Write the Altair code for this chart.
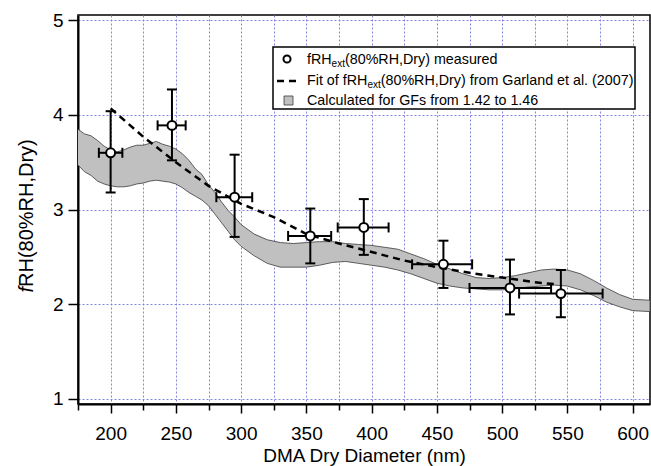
import altair as alt
import pandas as pd

# ---------------- data ----------------
band_x = [175, 180, 185, 190, 195, 200, 205, 210, 215, 220, 225, 230, 235, 240, 245,
          250, 255, 260, 265, 270, 275, 280, 285, 290, 295, 300, 310, 320, 330, 340,
          350, 360, 370, 380, 390, 400, 410, 420, 430, 440, 450, 460, 470, 480, 490,
          500, 510, 520, 530, 540, 550, 560, 570, 580, 590, 600, 613]
band_upper = [3.85, 3.80, 3.78, 3.73, 3.67, 3.63, 3.61, 3.63, 3.66, 3.68, 3.68, 3.70, 3.72, 3.69, 3.67,
              3.64, 3.59, 3.52, 3.43, 3.37, 3.26, 3.18, 3.08, 2.99, 2.92, 2.84, 2.74, 2.68, 2.65, 2.64,
              2.65, 2.66, 2.66, 2.64, 2.63, 2.62, 2.60, 2.58, 2.53, 2.48, 2.42, 2.37, 2.32, 2.28, 2.27,
              2.28, 2.30, 2.33, 2.36, 2.37, 2.36, 2.32, 2.25, 2.17, 2.10, 2.05, 2.04]
band_lower = [3.47, 3.40, 3.36, 3.30, 3.27, 3.25, 3.24, 3.24, 3.25, 3.27, 3.28, 3.30, 3.31, 3.30, 3.29,
              3.27, 3.23, 3.18, 3.14, 3.10, 3.04, 2.95, 2.86, 2.77, 2.68, 2.61, 2.51, 2.43, 2.39, 2.39,
              2.39, 2.41, 2.44, 2.45, 2.43, 2.41, 2.39, 2.36, 2.32, 2.27, 2.22, 2.19, 2.17, 2.16, 2.15,
              2.15, 2.16, 2.18, 2.19, 2.20, 2.19, 2.15, 2.09, 2.02, 1.97, 1.93, 1.92]

fit_x = [200, 225, 250, 275, 300, 325, 350, 375, 400, 425, 450, 475, 500, 525, 540]
fit_y = [4.07, 3.77, 3.50, 3.25, 3.06, 2.92, 2.74, 2.64, 2.55, 2.46, 2.39, 2.33, 2.28, 2.23, 2.21]

meas_x = [200, 247, 295, 353, 394, 455, 506, 545]
meas_y = [3.60, 3.89, 3.13, 2.72, 2.81, 2.42, 2.17, 2.11]
meas_ylo = [3.18, 3.52, 2.71, 2.43, 2.52, 2.17, 1.89, 1.86]
meas_yhi = [4.04, 4.27, 3.58, 3.01, 3.11, 2.67, 2.47, 2.36]
meas_xlo = [191, 236, 281, 336, 374, 431, 475, 513]
meas_xhi = [209, 257.5, 308.5, 369, 413, 477, 537.5, 577]

x_ticks = list(range(175, 601, 25))
y_ticks = [1, 2, 3, 4, 5]

# ---------------- styling ----------------
FONT = "Liberation Sans"
GRID = "#8585e0"
W, H = 572, 389

band_df = pd.DataFrame({"x": band_x, "upper": band_upper, "lower": band_lower})
fit_df = pd.DataFrame({"x": fit_x, "y": fit_y})
meas_df = pd.DataFrame({"x": meas_x, "y": meas_y, "ylo": meas_ylo, "yhi": meas_yhi,
                        "xlo": meas_xlo, "xhi": meas_xhi})

xs = alt.Scale(domain=[175, 613.3], nice=False, zero=False)
ys = alt.Scale(domain=[0.942, 5.058], nice=False, zero=False)

x_axis = alt.Axis(
    values=x_ticks,
    labelExpr="datum.value % 50 === 0 ? datum.label : ''",
    tickSize={"condition": {"test": "datum.value % 50 === 0", "value": 9}, "value": 6},
    title="DMA Dry Diameter (nm)",
    grid=True, gridColor=GRID, gridDash=[2, 2], gridWidth=1,
    domainColor="black", domainWidth=2, tickColor="black", tickWidth=1.5,
    labelFontSize=19, labelColor="black", labelPadding=11, labelFlush=False,
    labelOverlap=False, titleFontSize=19, titleFontWeight="normal",
    titleColor="black", titlePadding=3, labelFont=FONT, titleFont=FONT,
)
y_axis = alt.Axis(
    values=y_ticks, title=None, format="d",
    grid=True, gridColor=GRID, gridDash=[2, 2], gridWidth=1,
    domainColor="black", domainWidth=2, tickColor="black", tickWidth=1.5,
    tickSize=10, labelFontSize=19, labelColor="black", labelPadding=5,
    labelFont=FONT,
)


def X(f):
    return alt.X(f, scale=xs, axis=x_axis, title="DMA Dry Diameter (nm)")


def Y(f):
    return alt.Y(f, scale=ys, axis=y_axis, title=None)


area = alt.Chart(band_df).mark_area(color="#c0c0c0", opacity=1).encode(
    x=X("x:Q"), y=Y("upper:Q"), y2="lower:Q")
up_line = alt.Chart(band_df).mark_line(color="#3a3a3a", strokeWidth=0.8).encode(
    x=X("x:Q"), y=Y("upper:Q"))
lo_line = alt.Chart(band_df).mark_line(color="#3a3a3a", strokeWidth=0.8).encode(
    x=X("x:Q"), y=Y("lower:Q"))

fit = alt.Chart(fit_df).mark_line(color="black", strokeWidth=2.5, strokeDash=[7, 5]).encode(
    x=X("x:Q"), y=Y("y:Q"))

meas = alt.Chart(meas_df)
vbar = meas.mark_rule(color="black", strokeWidth=2, opacity=1).encode(
    x=X("x:Q"), y=Y("ylo:Q"), y2="yhi:Q")
hbar = meas.mark_rule(color="black", strokeWidth=2, opacity=1).encode(
    x=X("xlo:Q"), x2="xhi:Q", y=Y("y:Q"))
cap_top = meas.mark_tick(color="black", orient="horizontal", size=10, thickness=2, opacity=1).encode(
    x=X("x:Q"), y=Y("yhi:Q"))
cap_bot = meas.mark_tick(color="black", orient="horizontal", size=10, thickness=2, opacity=1).encode(
    x=X("x:Q"), y=Y("ylo:Q"))
cap_l = meas.mark_tick(color="black", orient="vertical", size=10, thickness=2, opacity=1).encode(
    x=X("xlo:Q"), y=Y("y:Q"))
cap_r = meas.mark_tick(color="black", orient="vertical", size=10, thickness=2, opacity=1).encode(
    x=X("xhi:Q"), y=Y("y:Q"))
pts = meas.mark_point(shape="circle", filled=True, fill="white", stroke="black",
                      strokeWidth=2, size=80, opacity=1).encode(
    x=X("x:Q"), y=Y("y:Q"))

# ---------------- y title with italic f ----------------
one = alt.Data(values=[{"a": 1}])
yt_f = alt.Chart(one).mark_text(angle=270, align="right", baseline="middle", font=FONT,
                                fontSize=20, fontStyle="italic", color="black").encode(
    x=alt.value(-51), y=alt.value(272), text=alt.value("f"))
yt_rest = alt.Chart(one).mark_text(angle=270, align="left", baseline="middle", font=FONT,
                                   fontSize=20, color="black").encode(
    x=alt.value(-51), y=alt.value(272), text=alt.value("RH(80%RH,Dry)"))

# ---------------- legend (manual, for subscripts) ----------------
CW = {' ': .278, '(': .333, ')': .333, '%': .889, ',': .278, '.': .278,
      'A': .667, 'C': .722, 'D': .722, 'F': .611, 'G': .778, 'H': .722, 'M': .833,
      'R': .722, 'S': .667, 'a': .556, 'c': .5, 'd': .556, 'e': .556, 'f': .278,
      'i': .222, 'l': .222, 'm': .833, 'n': .556, 'o': .556, 'r': .333, 's': .5,
      't': .278, 'u': .556, 'x': .5, 'y': .5}


def tw(s, size):
    return sum(CW.get(c, .556) for c in s) * size


FS, SS = 14.3, 10
TX = 229
rows = [
    (45, ["fRH", "ext", "(80%RH,Dry) measured"]),
    (66, ["Fit of fRH", "ext", "(80%RH,Dry) from Garland et al. (2007)"]),
    (86, ["Calculated for GFs from 1.42 to 1.46"]),
]

leg_layers = []
leg_layers.append(alt.Chart(one).mark_rect(fill="white", stroke="black", strokeWidth=1.5).encode(
    x=alt.value(195), x2=alt.value(557), y=alt.value(32), y2=alt.value(94)))
for ry, parts in rows:
    cx = TX
    for i, p in enumerate(parts):
        sub = (i == 1)
        size = SS if sub else FS
        leg_layers.append(alt.Chart(one).mark_text(
            align="left", baseline="middle", font=FONT, fontSize=size, color="black").encode(
            x=alt.value(cx), y=alt.value(ry + (4 if sub else 0)), text=alt.value(p)))
        cx += tw(p, size)

leg_layers.append(alt.Chart(one).mark_point(shape="circle", filled=True, fill="white",
                                            stroke="black", strokeWidth=2, size=50, opacity=1).encode(
    x=alt.value(209), y=alt.value(44)))
leg_layers.append(alt.Chart(one).mark_rule(color="black", strokeWidth=2.5, strokeDash=[7, 5],
                                           opacity=1).encode(
    x=alt.value(199), x2=alt.value(218), y=alt.value(66)))
leg_layers.append(alt.Chart(one).mark_rect(fill="#c0c0c0", stroke="#3a3a3a", strokeWidth=0.8).encode(
    x=alt.value(206), x2=alt.value(215), y=alt.value(81), y2=alt.value(90)))

chart = alt.layer(
    area, up_line, lo_line, fit, vbar, hbar, cap_top, cap_bot, cap_l, cap_r, pts,
    yt_f, yt_rest, *leg_layers
).properties(
    width=W, height=H,
    autosize=alt.AutoSizeParams(type="none"),
    padding={"left": 78, "top": 15, "right": 1, "bottom": 62},
    background="white",
).configure(
    font=FONT,
    view=alt.ViewConfig(stroke="black", strokeWidth=1.5),
)

chart.save("out.html", embed_options={"renderer": "svg", "actions": False})
